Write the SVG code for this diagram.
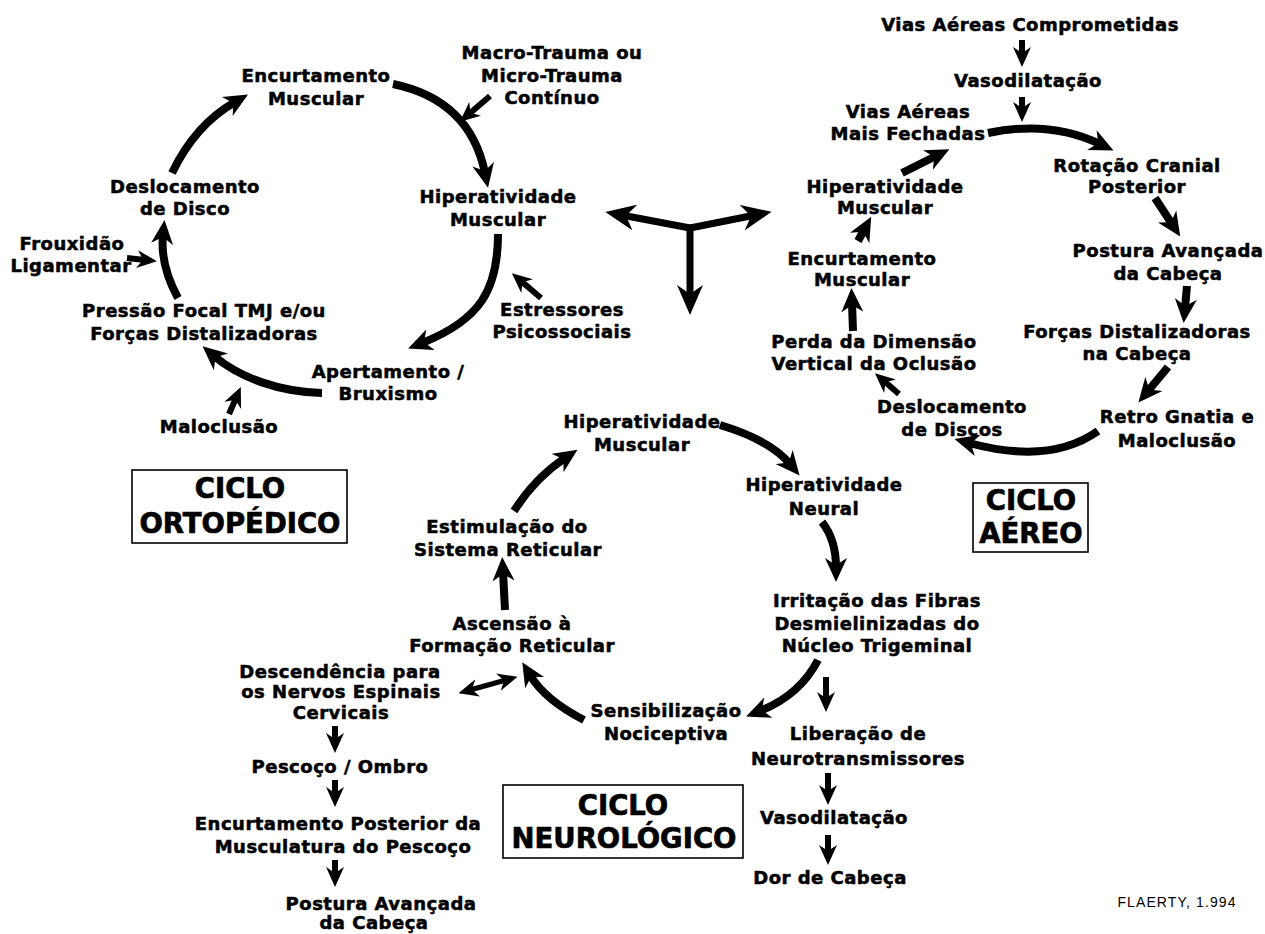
<svg xmlns="http://www.w3.org/2000/svg" width="1265" height="934" viewBox="0 0 1265 934">
<style>
.t{font-family:"DejaVu Sans","Liberation Sans",sans-serif;font-weight:bold;font-size:18px;letter-spacing:0.5px;text-anchor:middle;fill:#000;stroke:#000;stroke-width:0.55px}
.ti{font-family:"DejaVu Sans","Liberation Sans",sans-serif;font-weight:bold;font-size:27.5px;text-anchor:middle;fill:#000;stroke:#000;stroke-width:0.7px}
.box{fill:none;stroke:#000;stroke-width:1.6}
.c{fill:none;stroke:#000;stroke-width:8;marker-end:url(#ah)}
.s{fill:none;stroke:#000;stroke-width:6;marker-end:url(#as)}
.b{fill:none;stroke:#000;stroke-width:7;stroke-linecap:round;marker-end:url(#ab)}
.d{fill:none;stroke:#000;stroke-width:5;marker-end:url(#as);marker-start:url(#as2)}
.cr{font-family:"Liberation Sans",Arial,sans-serif;font-size:14px;letter-spacing:1.1px;text-anchor:middle;fill:#000}
</style>
<defs>
<marker id="ah" markerUnits="userSpaceOnUse" viewBox="0 0 24 22" refX="9" refY="11" markerWidth="24" markerHeight="22" orient="auto"><path d="M0,0 L24,11 L0,22 L7,11 z"/></marker>
<marker id="as" markerUnits="userSpaceOnUse" viewBox="0 0 20 18" refX="8" refY="9" markerWidth="20" markerHeight="18" orient="auto"><path d="M0,0 L20,9 L0,18 L6,9 z"/></marker>
<marker id="as2" markerUnits="userSpaceOnUse" viewBox="0 0 20 18" refX="8" refY="9" markerWidth="20" markerHeight="18" orient="auto-start-reverse"><path d="M0,0 L20,9 L0,18 L6,9 z"/></marker>
<marker id="ab" markerUnits="userSpaceOnUse" viewBox="0 0 30 26" refX="11" refY="13" markerWidth="30" markerHeight="26" orient="auto"><path d="M0,0 L30,13 L0,26 L9,13 z"/></marker>
</defs>
<rect width="1265" height="934" fill="#fff"/>

<g id="connectors">
<!-- ortopedico -->
<path class="c" d="M393,84 Q470,100 485,173"/>
<path class="c" d="M498,234 C498,290 480,320 422,343"/>
<path class="c" d="M322,393 C280,392 240,378 214,356"/>
<path class="c" d="M178,298 Q160,265 163,235"/>
<path class="c" d="M172,173 Q195,125 235,102"/>
<path class="s" d="M127,258 L145,260"/>
<path class="s" d="M490,96 L469,114"/>
<path class="s" d="M541,298 L521,281"/>
<path class="s" d="M229,414 L236,398"/>
<!-- centro -->
<path class="b" d="M690,228 L624,215.5"/>
<path class="b" d="M690,228 L753,215.5"/>
<path class="b" d="M690,228 L690,296"/>
<!-- aereo -->
<path class="s" d="M1022,40 L1022,55"/>
<path class="s" d="M1022,97 L1022,110"/>
<path class="c" d="M988,133 Q1050,120 1100,144"/>
<path class="c" d="M1155,198 L1172,224"/>
<path class="c" d="M1187,286 L1185,308"/>
<path class="c" d="M1168,367 L1148,391"/>
<path class="c" d="M1098,431 Q1050,465 969,443"/>
<path class="s" d="M899,394 L884,381"/>
<path class="c" d="M853,331 L852,303"/>
<path class="c" d="M858,241 L864,230"/>
<path class="c" d="M902,173 L936,156"/>
<!-- neurologico -->
<path class="c" d="M720,425 Q770,440 790,464"/>
<path class="c" d="M822,522 Q836,540 836,567"/>
<path class="c" d="M818,660 Q800,695 760,711"/>
<path class="s" d="M826,677 L826,700"/>
<path class="s" d="M828,773 L828,793"/>
<path class="s" d="M828,835 L828,853"/>
<path class="c" d="M584,720 Q545,700 530,675"/>
<path class="d" d="M470,690 L506,680"/>
<path class="c" d="M505,610 L503,572"/>
<path class="c" d="M514,511 Q535,478 565,458"/>
<path class="s" d="M335,726 L335,741"/>
<path class="s" d="M335,780 L335,795"/>
<path class="s" d="M335,860 L335,875"/>
</g>

<g id="o-encurtamento"><text class="t" x="316" y="82">Encurtamento</text><text class="t" x="316" y="105">Muscular</text></g>
<g id="o-trauma"><text class="t" x="552" y="59">Macro-Trauma ou</text><text class="t" x="552" y="82">Micro-Trauma</text><text class="t" x="552" y="104">Contínuo</text></g>
<g id="o-hiperatividade"><text class="t" x="498" y="203">Hiperatividade</text><text class="t" x="498" y="226">Muscular</text></g>
<g id="o-estressores"><text class="t" x="562" y="316">Estressores</text><text class="t" x="562" y="338">Psicossociais</text></g>
<g id="o-apertamento"><text class="t" x="388" y="378">Apertamento /</text><text class="t" x="388" y="400">Bruxismo</text></g>
<g id="o-maloclusao"><text class="t" x="219" y="433">Maloclusão</text></g>
<g id="o-pressao"><text class="t" x="204" y="317">Pressão Focal TMJ e/ou</text><text class="t" x="204" y="340">Forças Distalizadoras</text></g>
<g id="o-frouxidao"><text class="t" x="72" y="250">Frouxidão</text><text class="t" x="71" y="272">Ligamentar</text></g>
<g id="o-deslocamento"><text class="t" x="185" y="193">Deslocamento</text><text class="t" x="185" y="215">de Disco</text></g>
<g id="o-titulo"><rect class="box" x="132" y="470" width="215" height="73"/><text class="ti" x="240" y="498">CICLO</text><text class="ti" x="240" y="533">ORTOPÉDICO</text></g>

<g id="a-vias"><text class="t" x="1030" y="31">Vias Aéreas Comprometidas</text></g>
<g id="a-vaso"><text class="t" x="1028" y="87">Vasodilatação</text></g>
<g id="a-fechadas"><text class="t" x="908" y="118">Vias Aéreas</text><text class="t" x="908" y="140">Mais Fechadas</text></g>
<g id="a-rotacao"><text class="t" x="1137" y="172">Rotação Cranial</text><text class="t" x="1137" y="193">Posterior</text></g>
<g id="a-postura"><text class="t" x="1168" y="257">Postura Avançada</text><text class="t" x="1168" y="280">da Cabeça</text></g>
<g id="a-forcas"><text class="t" x="1137" y="338">Forças Distalizadoras</text><text class="t" x="1137" y="360">na Cabeça</text></g>
<g id="a-retro"><text class="t" x="1177" y="423">Retro Gnatia e</text><text class="t" x="1177" y="447">Maloclusão</text></g>
<g id="a-discos"><text class="t" x="952" y="413">Deslocamento</text><text class="t" x="952" y="436">de Discos</text></g>
<g id="a-perda"><text class="t" x="874" y="348">Perda da Dimensão</text><text class="t" x="874" y="370">Vertical da Oclusão</text></g>
<g id="a-encurtamento"><text class="t" x="862" y="265">Encurtamento</text><text class="t" x="862" y="286">Muscular</text></g>
<g id="a-hiperatividade"><text class="t" x="885" y="193">Hiperatividade</text><text class="t" x="885" y="214">Muscular</text></g>
<g id="a-titulo"><rect class="box" x="973" y="483" width="115" height="69"/><text class="ti" x="1031" y="510">CICLO</text><text class="ti" x="1031" y="543">AÉREO</text></g>

<g id="n-hipermusc"><text class="t" x="642" y="428">Hiperatividade</text><text class="t" x="642" y="451">Muscular</text></g>
<g id="n-hiperneural"><text class="t" x="824" y="491">Hiperatividade</text><text class="t" x="824" y="515">Neural</text></g>
<g id="n-irritacao"><text class="t" x="877" y="607">Irritação das Fibras</text><text class="t" x="877" y="630">Desmielinizadas do</text><text class="t" x="877" y="652">Núcleo Trigeminal</text></g>
<g id="n-sensibilizacao"><text class="t" x="666" y="717">Sensibilização</text><text class="t" x="666" y="740">Nociceptiva</text></g>
<g id="n-liberacao"><text class="t" x="858" y="740">Liberação de</text><text class="t" x="858" y="765">Neurotransmissores</text></g>
<g id="n-vaso"><text class="t" x="834" y="824">Vasodilatação</text></g>
<g id="n-dor"><text class="t" x="830" y="884">Dor de Cabeça</text></g>
<g id="n-titulo"><rect class="box" x="503" y="785" width="240" height="73"/><text class="ti" x="623" y="815">CICLO</text><text class="ti" x="624" y="848">NEUROLÓGICO</text></g>
<g id="n-ascensao"><text class="t" x="512" y="630">Ascensão à</text><text class="t" x="512" y="652">Formação Reticular</text></g>
<g id="n-estimulacao"><text class="t" x="507" y="533">Estimulação do</text><text class="t" x="508" y="556">Sistema Reticular</text></g>
<g id="n-descendencia"><text class="t" x="340" y="678">Descendência para</text><text class="t" x="341" y="698">os Nervos Espinais</text><text class="t" x="341" y="719">Cervicais</text></g>
<g id="n-pescoco"><text class="t" x="340" y="773">Pescoço / Ombro</text></g>
<g id="n-encurtamento"><text class="t" x="338" y="830">Encurtamento Posterior da</text><text class="t" x="343" y="853">Musculatura do Pescoço</text></g>
<g id="n-postura"><text class="t" x="381" y="910">Postura Avançada</text><text class="t" x="374" y="929">da Cabeça</text></g>
<g id="credito"><text class="cr" x="1177" y="907">FLAERTY, 1.994</text></g>
</svg>
